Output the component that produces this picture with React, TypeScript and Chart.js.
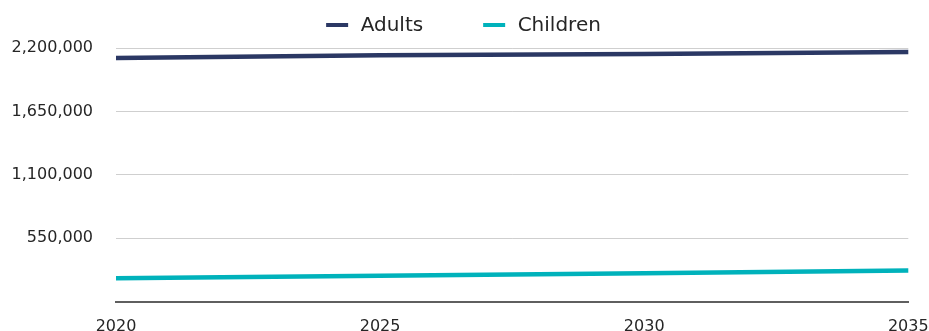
import React, { useEffect, useRef } from 'react';
import { Chart, registerables } from 'chart.js';

Chart.register(...registerables);

const years = ['2020', '2025', '2030', '2035'];
const adults = [2113000, 2136000, 2148000, 2165000];
const children = [201000, 224000, 246000, 268000];
const seriesNames = ['Adults', 'Children'];
const seriesColors = ['#2B3864', '#00B2BB'];
const yMin = 0;
const yMax = 2200000;
const yStep = 550000;

const FONT = '"DejaVu Sans", sans-serif';

const topLegend = {
  id: 'topLegend',
  afterDraw(chart: any) {
    const ctx = chart.ctx as CanvasRenderingContext2D;
    ctx.save();
    ctx.font = `20px ${FONT}`;
    const markerW = 22;
    const markerH = 4;
    const gapText = 12.5;
    const gapItem = 60;
    const items = chart.data.datasets.map((ds: any) => ({
      label: ds.label as string,
      color: ds.borderColor as string,
      w: ctx.measureText(ds.label).width,
    }));
    const total =
      items.reduce((s: number, it: any) => s + markerW + gapText + it.w, 0) +
      gapItem * (items.length - 1);
    let x = chart.width / 2 - total / 2 - 1;
    const y = 25;
    ctx.textBaseline = 'middle';
    ctx.textAlign = 'left';
    items.forEach((it: any) => {
      ctx.fillStyle = it.color;
      ctx.fillRect(x, y - markerH / 2, markerW, markerH);
      x += markerW + gapText;
      ctx.fillStyle = '#262626';
      ctx.fillText(it.label, x, y + 1);
      x += it.w + gapItem;
    });
    ctx.restore();
  },
};

export default function App() {
  const canvasRef = useRef<HTMLCanvasElement | null>(null);

  useEffect(() => {
    document.body.style.margin = '0';
    const canvas = canvasRef.current;
    if (!canvas) return;
    const chart = new Chart(canvas, {
      type: 'line',
      data: {
        labels: years,
        datasets: [
          {
            label: seriesNames[0],
            data: adults,
            borderColor: seriesColors[0],
            backgroundColor: seriesColors[0],
            borderWidth: 4.5,
            pointRadius: 0,
            tension: 0,
            borderCapStyle: 'butt',
          },
          {
            label: seriesNames[1],
            data: children,
            borderColor: seriesColors[1],
            backgroundColor: seriesColors[1],
            borderWidth: 4.5,
            pointRadius: 0,
            tension: 0,
            borderCapStyle: 'butt',
          },
        ],
      },
      options: {
        animation: false,
        responsive: true,
        maintainAspectRatio: false,
        layout: { padding: { top: 48, right: 20.7, bottom: 0, left: 0 } },
        plugins: {
          legend: { display: false },
          tooltip: { enabled: false },
        },
        scales: {
          x: {
            type: 'category',
            offset: false,
            grid: { display: false },
            border: { display: true, color: '#5f5f5f', width: 2 },
            ticks: {
              color: '#262626',
              font: { family: FONT, size: 16 },
              padding: 8,
              maxRotation: 0,
              autoSkip: false,
            },
            afterFit(scale: any) {
              scale.height = 29.5;
              scale.paddingLeft = 0;
              scale.paddingRight = 0;
            },
          },
          y: {
            min: yMin,
            max: yMax,
            grid: { color: '#cfcfcf', lineWidth: 1, drawTicks: false },
            border: { display: false },
            ticks: {
              stepSize: yStep,
              color: '#262626',
              font: { family: FONT, size: 16 },
              padding: 23,
              callback: (v: any) => (Number(v) === 0 ? '' : Number(v).toLocaleString('en-US')),
            },
            afterFit(scale: any) {
              scale.width = 116;
              scale.paddingTop = 0;
              scale.paddingBottom = 0;
            },
          },
        },
      },
      plugins: [topLegend],
    });
    return () => chart.destroy();
  }, []);

  return (
    <div style={{ position: 'relative', width: 929, height: 331 }}>
      <canvas ref={canvasRef} />
    </div>
  );
}
